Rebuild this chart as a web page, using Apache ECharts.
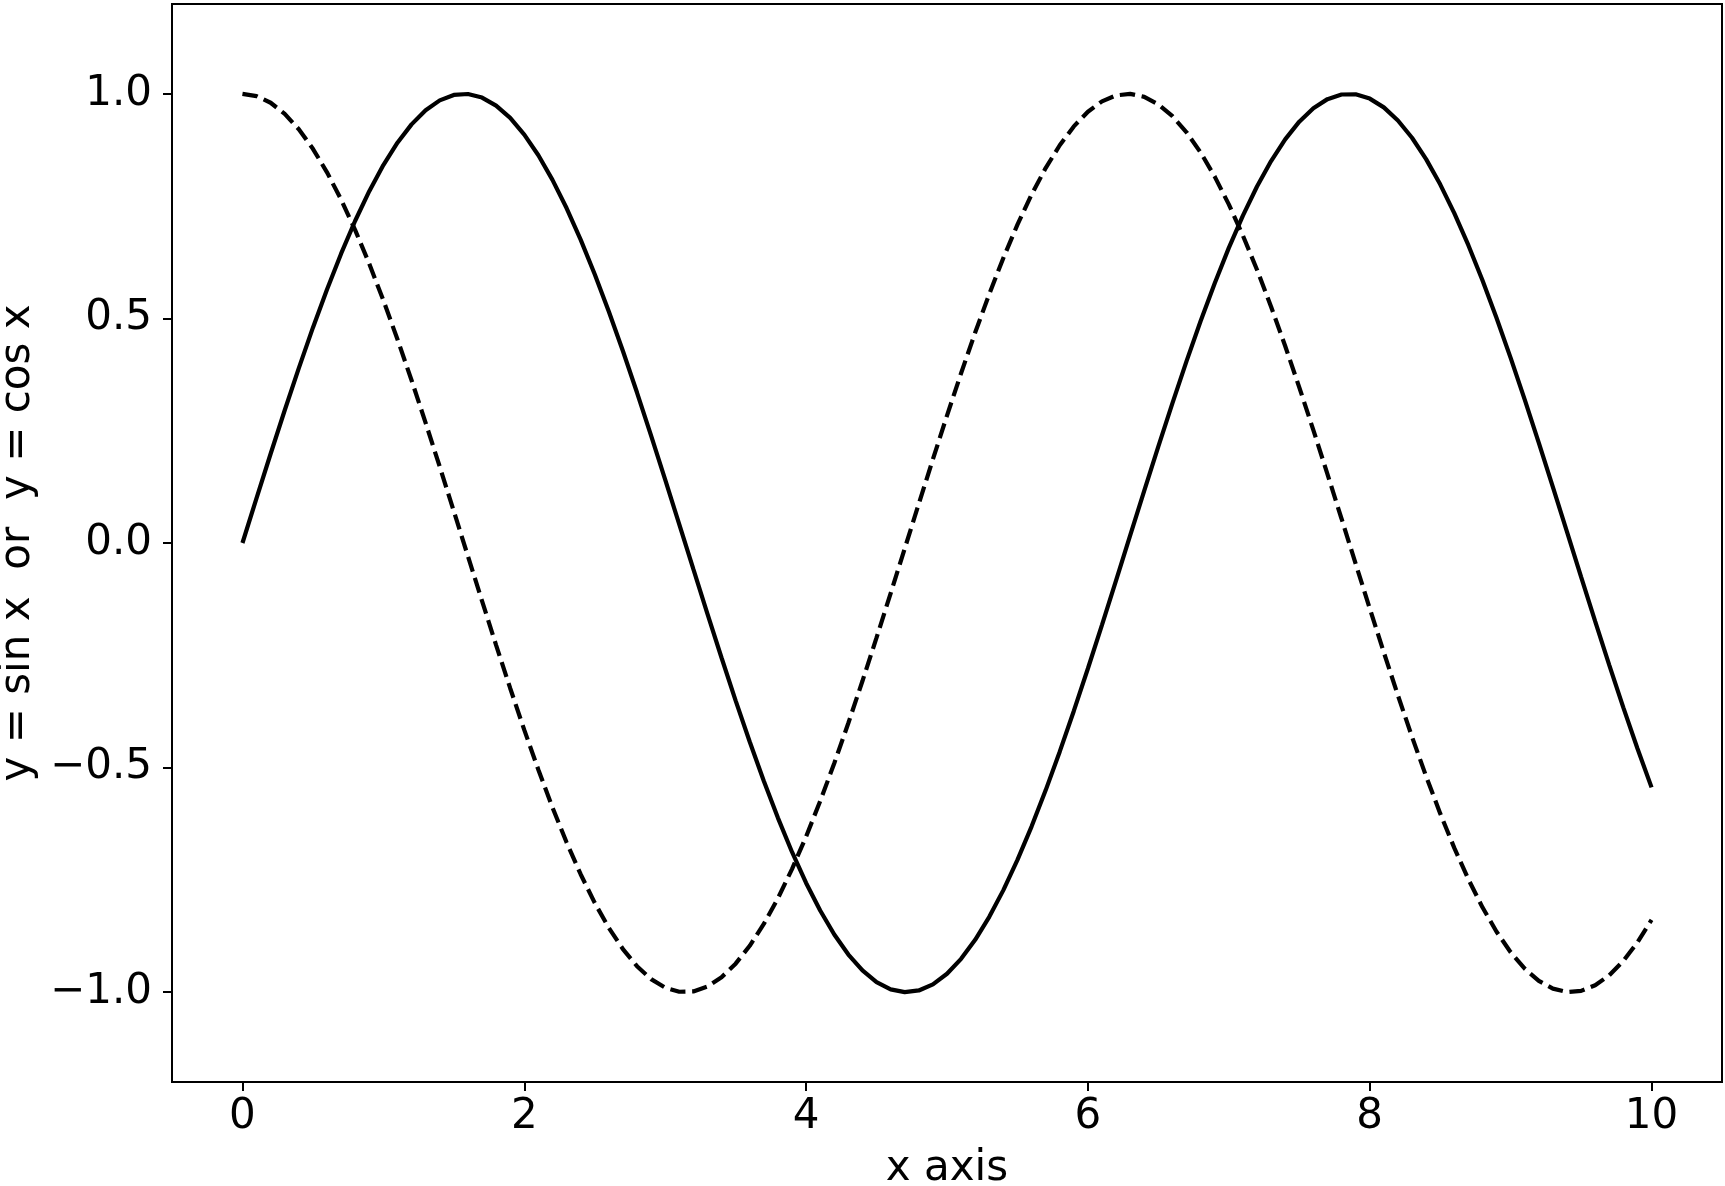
<!DOCTYPE html>
<html>
<head>
<meta charset="utf-8">
<script src="https://cdn.jsdelivr.net/npm/echarts@6/dist/echarts.min.js"></script>
<style>
html,body{margin:0;padding:0;background:#fff;}
#chart{width:1725px;height:1186px;}
</style>
</head>
<body>
<div id="chart"></div>
<script>
const xValues = [0,0.1,0.2,0.3,0.4,0.5,0.6,0.7,0.8,0.9,1,1.1,1.2,1.3,1.4,1.5,1.6,1.7,1.8,1.9,2,2.1,2.2,2.3,2.4,2.5,2.6,2.7,2.8,2.9,3,3.1,3.2,3.3,3.4,3.5,3.6,3.7,3.8,3.9,4,4.1,4.2,4.3,4.4,4.5,4.6,4.7,4.8,4.9,5,5.1,5.2,5.3,5.4,5.5,5.6,5.7,5.8,5.9,6,6.1,6.2,6.3,6.4,6.5,6.6,6.7,6.8,6.9,7,7.1,7.2,7.3,7.4,7.5,7.6,7.7,7.8,7.9,8,8.1,8.2,8.3,8.4,8.5,8.6,8.7,8.8,8.9,9,9.1,9.2,9.3,9.4,9.5,9.6,9.7,9.8,9.9,10];
const sinValues = [0,0.0998,0.1987,0.2955,0.3894,0.4794,0.5646,0.6442,0.7174,0.7833,0.8415,0.8912,0.9320,0.9636,0.9854,0.9975,0.9996,0.9917,0.9738,0.9463,0.9093,0.8632,0.8085,0.7457,0.6755,0.5985,0.5155,0.4274,0.3350,0.2392,0.1411,0.0416,-0.0584,-0.1577,-0.2555,-0.3508,-0.4425,-0.5298,-0.6119,-0.6878,-0.7568,-0.8183,-0.8716,-0.9162,-0.9516,-0.9775,-0.9937,-0.9999,-0.9962,-0.9825,-0.9589,-0.9258,-0.8835,-0.8323,-0.7728,-0.7055,-0.6313,-0.5507,-0.4646,-0.3739,-0.2794,-0.1822,-0.0831,0.0168,0.1165,0.2151,0.3115,0.4048,0.4941,0.5784,0.6570,0.7290,0.7937,0.8504,0.8987,0.9380,0.9679,0.9882,0.9985,0.9989,0.9894,0.9699,0.9407,0.9022,0.8546,0.7985,0.7344,0.6630,0.5849,0.5010,0.4121,0.3191,0.2229,0.1245,0.0248,-0.0752,-0.1743,-0.2718,-0.3665,-0.4575,-0.5440];
const cosValues = [1,0.9950,0.9801,0.9553,0.9211,0.8776,0.8253,0.7648,0.6967,0.6216,0.5403,0.4536,0.3624,0.2675,0.1700,0.0707,-0.0292,-0.1288,-0.2272,-0.3233,-0.4161,-0.5048,-0.5885,-0.6663,-0.7374,-0.8011,-0.8569,-0.9041,-0.9422,-0.9710,-0.9900,-0.9991,-0.9983,-0.9875,-0.9668,-0.9365,-0.8968,-0.8481,-0.7910,-0.7259,-0.6536,-0.5748,-0.4903,-0.4008,-0.3073,-0.2108,-0.1122,-0.0124,0.0875,0.1865,0.2837,0.3780,0.4685,0.5544,0.6347,0.7087,0.7756,0.8347,0.8855,0.9275,0.9602,0.9833,0.9965,0.9999,0.9932,0.9766,0.9502,0.9144,0.8694,0.8157,0.7539,0.6845,0.6084,0.5261,0.4385,0.3466,0.2513,0.1534,0.0540,-0.0460,-0.1455,-0.2435,-0.3392,-0.4314,-0.5193,-0.6020,-0.6787,-0.7486,-0.8111,-0.8654,-0.9111,-0.9477,-0.9748,-0.9922,-0.9997,-0.9972,-0.9847,-0.9624,-0.9304,-0.8892,-0.8391];
const xTicks = [0,2,4,6,8,10];
const yTicks = [-1.0,-0.5,0.0,0.5,1.0];
const xAxisName = 'x axis';
const yAxisName = 'y = sin x  or  y = cos x';

const FONT = 'DejaVu Sans';
const FS = 42;
const chart = echarts.init(document.getElementById('chart'), null, {renderer:'canvas'});
const pair = (xs, ys) => xs.map((x, i) => [x, ys[i]]);
chart.setOption({
  animation: false,
  backgroundColor: '#fff',
  grid: {left: 172, top: 4, right: 3, bottom: 104, containLabel: false, outerBoundsMode: 'none',
         show: true, borderColor: '#000', borderWidth: 2, backgroundColor: 'transparent'},
  xAxis: {
    type: 'value', min: -0.5, max: 10.5,
    name: xAxisName, nameLocation: 'middle', nameGap: 66,
    nameTextStyle: {fontFamily: FONT, fontSize: FS, color: '#000'},
    axisLine: {show: true, onZero: false, lineStyle: {color: '#000', width: 2}},
    axisTick: {show: true, inside: false, length: 9, lineStyle: {color: '#000', width: 2}, customValues: xTicks},
    axisLabel: {show: true, margin: 14, fontFamily: FONT, fontSize: FS, color: '#000', customValues: xTicks, formatter: v => String(v)},
    splitLine: {show: false}
  },
  yAxis: {
    type: 'value', min: -1.2, max: 1.2,
    name: yAxisName, nameLocation: 'middle', nameGap: 124, nameRotate: 90,
    nameTextStyle: {fontFamily: FONT, fontSize: FS, color: '#000'},
    axisLine: {show: true, onZero: false, lineStyle: {color: '#000', width: 2}},
    axisTick: {show: true, inside: false, length: 9, lineStyle: {color: '#000', width: 2}, customValues: yTicks},
    axisLabel: {show: true, margin: 20, fontFamily: FONT, fontSize: FS, color: '#000', customValues: yTicks,
      formatter: v => v.toFixed(1).replace('-', '\u2212')},
    splitLine: {show: false}
  },
  series: [
    {type: 'line', data: pair(xValues, sinValues), showSymbol: false, symbol: 'none', smooth: false,
     lineStyle: {color: '#000', width: 4.2, type: 'solid'}, clip: true},
    {type: 'line', data: pair(xValues, cosValues), showSymbol: false, symbol: 'none', smooth: false,
     lineStyle: {color: '#000', width: 4.2, type: [15.4, 6.7]}, clip: true}
  ]
});
</script>
</body>
</html>
